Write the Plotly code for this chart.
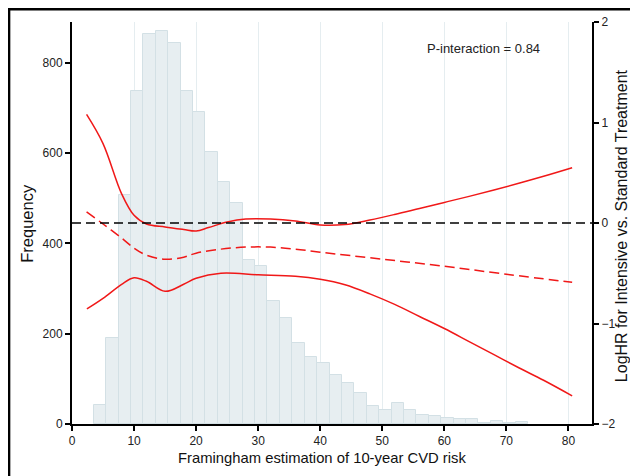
import plotly.graph_objects as go

# Histogram (bin width 2, centres)
bin_centers = [4.5, 6.5, 8.5, 10.5, 12.5, 14.5, 16.5, 18.5, 20.5, 22.5, 24.5, 26.5,
               28.5, 30.5, 32.5, 34.5, 36.5, 38.5, 40.5, 42.5, 44.5, 46.5, 48.5,
               50.5, 52.5, 54.5, 56.5, 58.5, 60.5, 62.5, 64.5, 66.5, 68.5, 70.5, 72.5]
frequency = [41, 191, 506, 737, 863, 869, 844, 737, 691, 603, 536, 490,
             362, 349, 273, 235, 180, 149, 134, 109, 90, 68, 40,
             32, 47, 32, 21, 18, 14, 12, 12, 2, 6, 2, 4]

# Log HR curves
upper_x = [2.35, 5, 8, 10, 12, 15, 18, 20, 22, 25, 28, 32, 36, 40, 44, 48, 52,
           56, 60, 64, 68, 72, 76, 80.6]
upper_y = [1.08, 0.79, 0.29, 0.076, -0.01, -0.04, -0.065, -0.08, -0.045, 0.01,
           0.04, 0.04, 0.02, -0.02, -0.015, 0.03, 0.085, 0.145, 0.205, 0.265,
           0.328, 0.395, 0.465, 0.55]

mean_x = [2.35, 5, 8, 10, 12, 15, 18, 20, 24, 28, 32, 36, 40, 50, 60, 70, 80.6]
mean_y = [0.11, -0.01, -0.15, -0.25, -0.32, -0.36, -0.34, -0.30, -0.26, -0.24,
          -0.24, -0.26, -0.29, -0.36, -0.43, -0.51, -0.59]

lower_x = [2.4, 5, 8, 10, 12, 15, 18, 20, 24, 30, 36, 40, 44, 48, 52, 56, 60,
           64, 68, 72, 76, 80.6]
lower_y = [-0.855, -0.75, -0.61, -0.545, -0.58, -0.68, -0.61, -0.55, -0.50,
           -0.515, -0.53, -0.56, -0.615, -0.705, -0.81, -0.93, -1.05, -1.18,
           -1.31, -1.44, -1.565, -1.72]

x_ticks = [0, 10, 20, 30, 40, 50, 60, 70, 80]
left_ticks = [0, 200, 400, 600, 800]
right_ticks = [-2, -1, 0, 1, 2]

RED = "#f01818"
FONT = "Liberation Sans, Arial, sans-serif"

fig = go.Figure()
fig.add_trace(go.Bar(x=bin_centers, y=frequency, width=2,
                     marker=dict(color="#e7eef1", line=dict(color="#d3e0e5", width=1)),
                     yaxis="y", showlegend=False))
fig.add_trace(go.Scatter(x=upper_x, y=upper_y, mode="lines", yaxis="y2",
                         line=dict(color=RED, width=1.5, shape="spline", smoothing=1.0),
                         showlegend=False))
fig.add_trace(go.Scatter(x=mean_x, y=mean_y, mode="lines", yaxis="y2",
                         line=dict(color=RED, width=1.5, dash="10px,5px", shape="spline", smoothing=1.0),
                         showlegend=False))
fig.add_trace(go.Scatter(x=lower_x, y=lower_y, mode="lines", yaxis="y2",
                         line=dict(color=RED, width=1.5, shape="spline", smoothing=1.0),
                         showlegend=False))

fig.add_shape(type="line", xref="x domain", yref="y2", x0=0, x1=1.01, y0=0, y1=0,
              line=dict(color="black", width=1.5, dash="9px,5px"))
# outer frame (cropped figure border)
fig.add_shape(type="rect", xref="paper", yref="paper", x0=-0.121, x1=1.3,
              y0=-0.3, y1=1.0315, line=dict(color="black", width=2.5), layer="above")

fig.add_annotation(text="P-interaction = 0.84", xref="paper", yref="paper",
                   x=0.792, y=0.935, xanchor="center", yanchor="middle", showarrow=False,
                   font=dict(family=FONT, size=13, color="#222"))
fig.add_annotation(text="Framingham estimation of 10-year CVD risk", xref="paper",
                   yref="paper", x=0.481, y=-0.085, xanchor="center", yanchor="middle",
                   showarrow=False, font=dict(family=FONT, size=14.8, color="#111"))
fig.add_annotation(text="Frequency", xref="paper", yref="paper", x=-0.087, y=0.5,
                   xanchor="center", yanchor="middle", textangle=-90, showarrow=False,
                   font=dict(family=FONT, size=16.5, color="#111"))
fig.add_annotation(text="LogHR for Intensive vs. Standard Treatment", xref="paper",
                   yref="paper", x=1.056, y=0.4925, xanchor="center", yanchor="middle",
                   textangle=-90, showarrow=False,
                   font=dict(family=FONT, size=16, color="#111"))

axis_common = dict(showline=True, linecolor="black", linewidth=2, ticks="outside",
                   ticklen=5, tickwidth=1.5, tickcolor="black", zeroline=False,
                   automargin=False,
                   tickfont=dict(family=FONT, size=12, color="#222"))

fig.update_layout(
    width=638, height=476, autosize=False,
    margin=dict(l=64, r=54, t=14, b=60),
    plot_bgcolor="white", paper_bgcolor="white",
    bargap=0,
    xaxis=dict(range=[0, 83.8], tickvals=x_ticks, showgrid=True,
               gridcolor="#e5edf0", gridwidth=1, **axis_common),
    yaxis=dict(range=[0, 890], tickvals=left_ticks, showgrid=False, **axis_common),
    yaxis2=dict(range=[-2, 2], tickvals=right_ticks, overlaying="y", side="right",
                showgrid=False, **axis_common),
)

fig.write_html("out.html")
